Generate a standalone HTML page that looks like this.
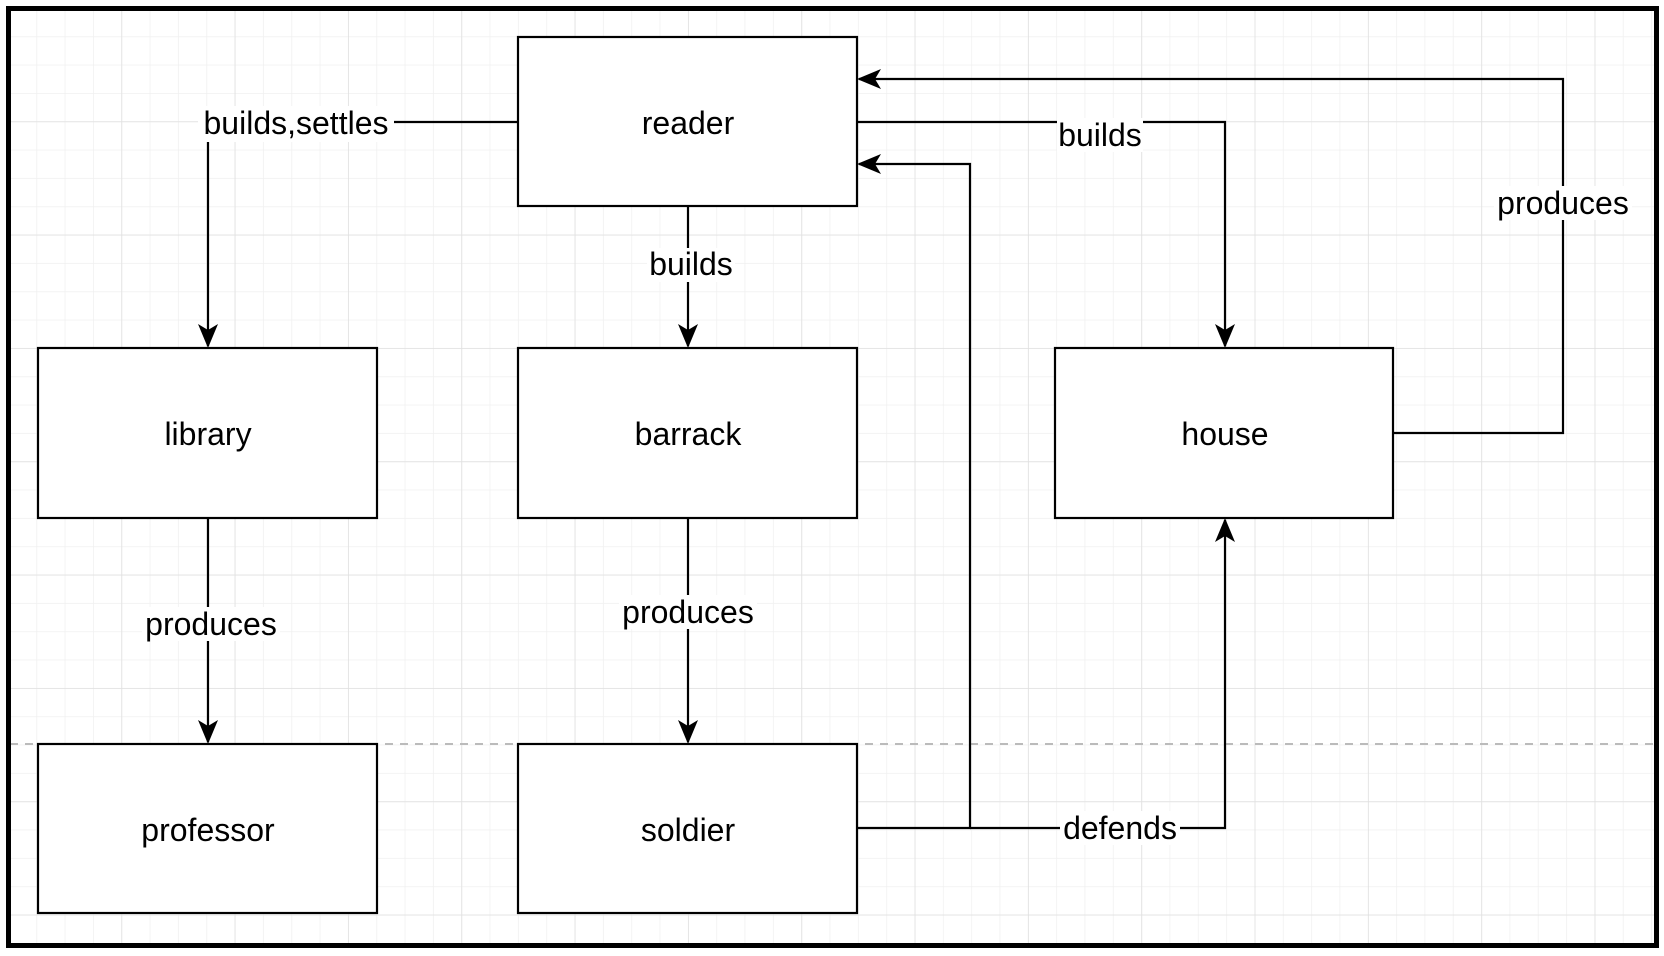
<!DOCTYPE html>
<html><head><meta charset="utf-8"><style>
html,body{margin:0;padding:0;background:#fff;}
svg{display:block;}
text{font-family:"Liberation Sans",Arial,sans-serif;font-size:32px;fill:#000;}
</style></head><body>
<svg width="1664" height="956" viewBox="0 0 1664 956" xmlns="http://www.w3.org/2000/svg">
<defs>
<pattern id="minor" x="8" y="8" width="28.33" height="28.33" patternUnits="userSpaceOnUse">
<path d="M0 0H28.33M0 0V28.33" stroke="#f0f0f0" stroke-width="1.5" fill="none"/>
</pattern>
<pattern id="major" x="8" y="8" width="113.33" height="113.33" patternUnits="userSpaceOnUse">
<path d="M0 0H113.33M0 0V113.33" stroke="#e0e0e0" stroke-width="1.5" fill="none"/>
</pattern>
<marker id="ar" viewBox="0 0 24 24" refX="22" refY="12" markerWidth="24" markerHeight="24" markerUnits="userSpaceOnUse" orient="auto">
<path d="M0 2 L24 12 L0 22 L6 12 Z" fill="#000"/>
</marker>
</defs>
<rect x="0" y="0" width="1664" height="956" fill="#fff"/>
<rect x="9" y="9" width="1648" height="937" fill="url(#minor)"/>
<rect x="9" y="9" width="1648" height="937" fill="url(#major)"/>
<line x1="10" y1="744" x2="1655" y2="744" stroke="#bbb" stroke-width="2" stroke-dasharray="8,7"/>
<rect x="8.5" y="8.5" width="1648" height="937" fill="none" stroke="#000" stroke-width="5"/>

<g fill="none" stroke="#000" stroke-width="2.2">
<path d="M518 122 H208 V346" marker-end="url(#ar)"/>
<path d="M688 206 V346" marker-end="url(#ar)"/>
<path d="M857 122 H1225 V346" marker-end="url(#ar)"/>
<path d="M1393 433 H1563 V79 H859" marker-end="url(#ar)"/>
<path d="M857 828 H970 V164 H859" marker-end="url(#ar)"/>
<path d="M970 828 H1225 V520" marker-end="url(#ar)"/>
<path d="M208 518 V742" marker-end="url(#ar)"/>
<path d="M688 518 V742" marker-end="url(#ar)"/>
</g>

<g fill="#fff" stroke="#000" stroke-width="2.2">
<rect x="518" y="37" width="339" height="169"/>
<rect x="38" y="348" width="339" height="170"/>
<rect x="518" y="348" width="339" height="170"/>
<rect x="1055" y="348" width="338" height="170"/>
<rect x="38" y="744" width="339" height="169"/>
<rect x="518" y="744" width="339" height="169"/>
</g>

<g text-anchor="middle" dominant-baseline="central">
<text x="688" y="123">reader</text>
<text x="208" y="434">library</text>
<text x="688" y="434">barrack</text>
<text x="1225" y="434">house</text>
<text x="208" y="830">professor</text>
<text x="688" y="830">soldier</text>
</g>

<g text-anchor="middle" dominant-baseline="central">
<rect x="198" y="106" width="196" height="36" fill="#fff"/>
<text x="296" y="123">builds,settles</text>
<rect x="647" y="248" width="88" height="34" fill="#fff"/>
<text x="691" y="264">builds</text>
<rect x="1057" y="118" width="86" height="34" fill="#fff"/>
<text x="1100" y="135">builds</text>
<rect x="1494" y="186" width="138" height="34" fill="#fff"/>
<text x="1563" y="203">produces</text>
<rect x="1060" y="811" width="120" height="34" fill="#fff"/>
<text x="1120" y="828">defends</text>
<rect x="142" y="607" width="138" height="34" fill="#fff"/>
<text x="211" y="624">produces</text>
<rect x="619" y="595" width="138" height="34" fill="#fff"/>
<text x="688" y="612">produces</text>
</g>
</svg>
</body></html>
